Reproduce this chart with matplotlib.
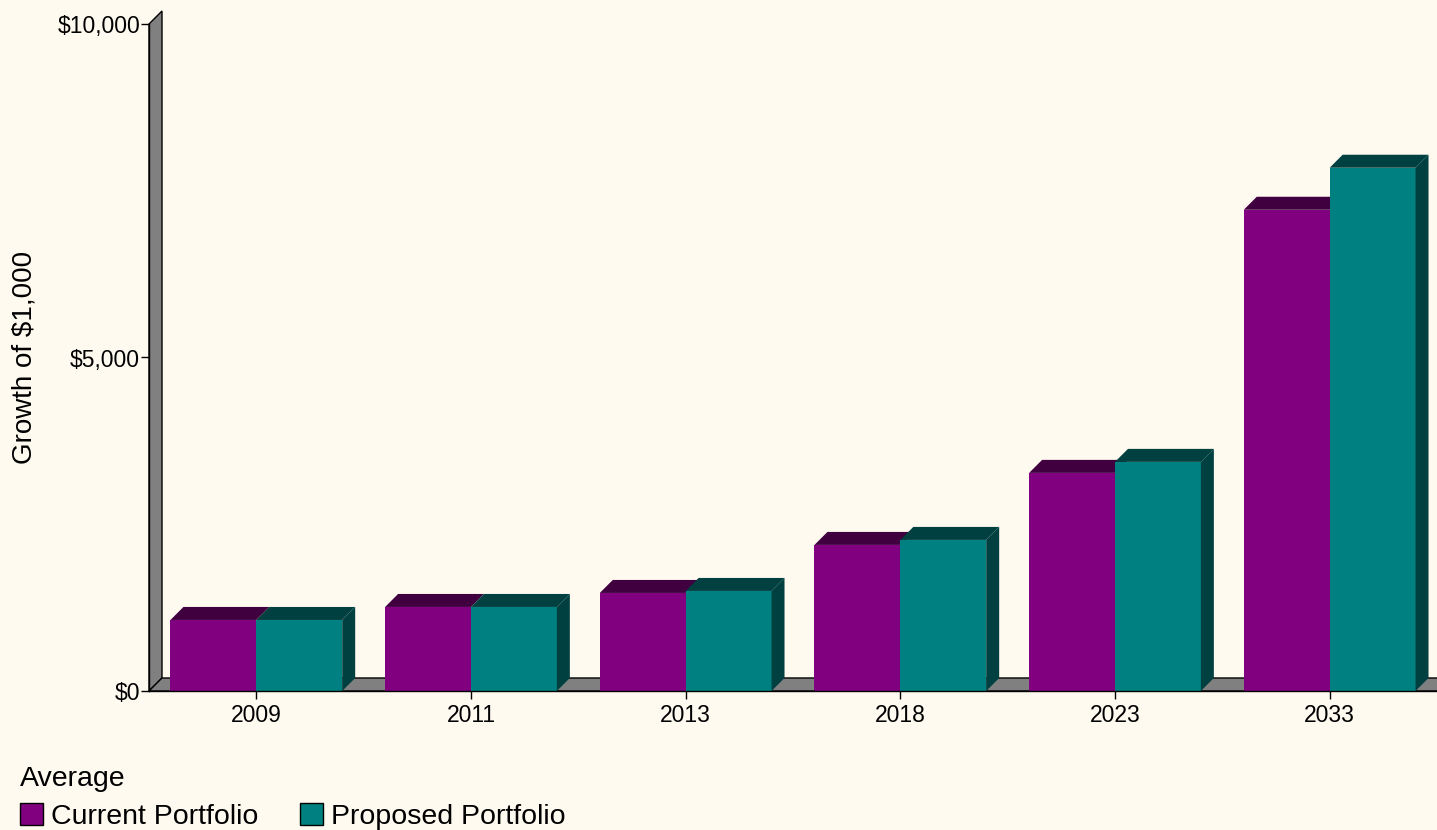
import numpy as np
import matplotlib.pyplot as plt
from matplotlib.patches import Polygon, Patch

plt.rcParams['font.family'] = ['Liberation Sans', 'DejaVu Sans']

years = ['2009', '2011', '2013', '2018', '2023', '2033']
current = [1065, 1260, 1470, 2190, 3270, 7215]
proposed = [1065, 1260, 1500, 2265, 3435, 7845]
series_names = ['Current Portfolio', 'Proposed Portfolio']
yticks = [0, 5000, 10000]
ytick_labels = ['$0', '$5,000', '$10,000']

bg = '#FFFAF0'
front = ['#800080', '#008080']
dark = ['#400040', '#004040']
gray = '#808080'

fig = plt.figure(figsize=(14.37, 8.30), dpi=100, facecolor=bg)
ax = fig.add_axes([149 / 1437, 139 / 830, 1288 / 1437, 667 / 830])
ax.set_facecolor('none')
ax.set_xlim(-0.5, 5.5)
ax.set_ylim(0, 10000)

# depth offset for the fake 3d look
ddx = 0.0605
ddy = 195
w = 0.4

# back wall and floor
wall = Polygon([(-0.5, 0), (-0.5, 10000), (-0.5 + ddx, 10000 + ddy), (-0.5 + ddx, ddy)],
               closed=True, facecolor=gray, edgecolor='black', lw=1, clip_on=False, zorder=1)
ax.add_patch(wall)
floor = Polygon([(-0.5, 0), (-0.5 + ddx, ddy), (5.7 + ddx, ddy), (5.7, 0)],
                closed=True, facecolor=gray, edgecolor='black', lw=1, clip_on=False, zorder=1)
ax.add_patch(floor)

x = np.arange(len(years))
z = 2
for i in range(len(years)):
    for k, vals in enumerate([current, proposed]):
        x0 = x[i] - w + k * w
        x1 = x0 + w
        h = vals[i]
        ax.bar(x0, h, width=w, align='edge', color=front[k], zorder=z, clip_on=False)
        top = Polygon([(x0, h), (x0 + ddx, h + ddy), (x1 + ddx, h + ddy), (x1, h)],
                      closed=True, facecolor=dark[k], edgecolor='none', clip_on=False, zorder=z)
        ax.add_patch(top)
        if k == 1:
            side = Polygon([(x1, 0), (x1 + ddx, ddy), (x1 + ddx, h + ddy), (x1, h)],
                           closed=True, facecolor=dark[k], edgecolor='none', clip_on=False, zorder=z)
            ax.add_patch(side)
        z += 1

for s in ['top', 'right']:
    ax.spines[s].set_visible(False)
ax.spines['left'].set_zorder(50)
ax.spines['bottom'].set_zorder(50)
ax.spines['left'].set_linewidth(1)
ax.spines['bottom'].set_linewidth(1)

ax.set_xticks(x)
ax.set_xticklabels(years, fontsize=16.5)
ax.set_yticks(yticks)
ax.set_yticklabels(ytick_labels, fontsize=16.5)
ax.tick_params(axis='both', length=6, width=1, direction='out')
ax.tick_params(axis='y', pad=0.5)
ax.tick_params(axis='x', pad=3)
ax.set_ylabel('Growth of $1,000', fontsize=20)
ax.yaxis.set_label_coords(-111 / 1288, 0.5)

handles = [Patch(facecolor=front[0], edgecolor='black'),
           Patch(facecolor=front[1], edgecolor='black')]
leg = fig.legend(handles, series_names, title='Average', loc='lower left',
                 bbox_to_anchor=(0.0, -0.024), ncol=2, frameon=False,
                 fontsize=20.5, title_fontsize=20.5, alignment='left',
                 handlelength=0.8, handleheight=0.8, handletextpad=0.3,
                 columnspacing=1.45, borderpad=0.2, labelspacing=0.4)

fig.savefig('out.png', dpi=100, facecolor=bg)
